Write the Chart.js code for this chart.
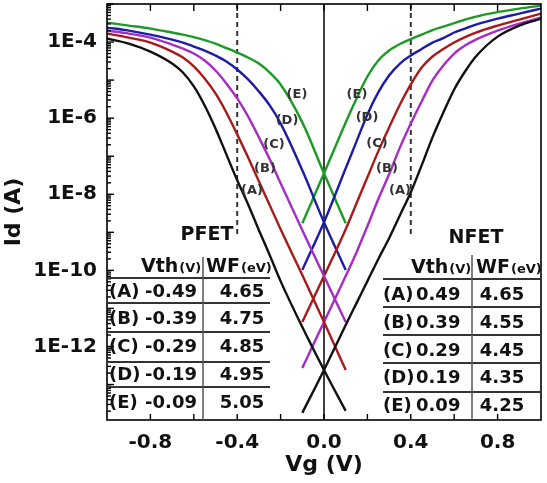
<!DOCTYPE html>
<html><head><meta charset="utf-8">
<script src="https://cdn.jsdelivr.net/npm/chart.js@4/dist/chart.umd.min.js"></script>
<style>html,body{margin:0;padding:0;background:#fff;}canvas{display:block;}</style>
</head><body>
<canvas id="c" width="547" height="483"></canvas>
<script>
// ---- data ----
const vgP = [-1, -0.9, -0.8, -0.7, -0.65, -0.6, -0.55, -0.5, -0.45, -0.4, -0.35, -0.3, -0.25, -0.2, -0.1, 0, 0.1];
const vgN = [-0.1, 0, 0.1, 0.15, 0.2, 0.25, 0.3, 0.35, 0.4, 0.45, 0.5, 0.55, 0.6, 0.65, 0.7, 0.8, 0.9, 1];

// PFET branches (current falls with Vg)
const pfetA = [1.24e-4, 9.13e-5, 5.63e-5, 2.73e-5, 1.58e-5, 6.81e-6, 2.16e-6, 5.38e-7, 1.12e-7, 2.33e-8, 5.47e-9, 1.14e-9, 2.51e-10, 5.22e-11, 3.25e-12, 2.42e-13, 2.03e-14];
const pfetB = [1.67e-4, 1.31e-4, 9.70e-5, 5.63e-5, 3.92e-5, 2.28e-5, 1.10e-5, 4.46e-6, 1.41e-6, 3.75e-7, 9.34e-8, 2.19e-8, 5.15e-9, 1.21e-9, 7.51e-11, 4.39e-12, 2.42e-13];
const pfetC = [2.00e-4, 1.67e-4, 1.31e-4, 8.60e-5, 6.75e-5, 4.99e-5, 3.27e-5, 1.79e-5, 8.16e-6, 3.30e-6, 1.11e-6, 3.13e-7, 8.28e-8, 1.94e-8, 1.14e-9, 7.07e-11, 4.39e-12];
const pfetD = [2.40e-4, 2.00e-4, 1.57e-4, 1.16e-4, 9.70e-5, 7.62e-5, 5.98e-5, 4.42e-5, 3.08e-5, 1.90e-5, 1.04e-5, 5.03e-6, 2.16e-6, 7.28e-7, 4.26e-8, 1.84e-9, 1.02e-10];
const pfetE = [3.25e-4, 2.71e-4, 2.26e-4, 1.78e-4, 1.57e-4, 1.35e-4, 1.13e-4, 9.13e-5, 6.96e-5, 5.30e-5, 3.92e-5, 2.73e-5, 1.58e-5, 7.68e-6, 7.74e-7, 3.55e-8, 1.73e-9];

// NFET branches (current rises with Vg)
const nfetA = [1.80e-14, 2.42e-13, 3.66e-12, 1.38e-11, 5.22e-11, 1.97e-10, 7.01e-10, 2.81e-9, 1.13e-8, 5.76e-8, 3.13e-7, 1.41e-6, 5.68e-6, 1.68e-5, 4.17e-5, 1.39e-4, 2.71e-4, 4.13e-4];
const nfetB = [2.73e-13, 4.39e-12, 7.07e-11, 3.01e-10, 1.45e-9, 7.40e-9, 3.35e-8, 1.71e-7, 7.28e-7, 2.75e-6, 9.78e-6, 2.42e-5, 4.99e-5, 8.10e-5, 1.16e-4, 2.00e-4, 3.06e-4, 4.39e-4];
const nfetC = [4.39e-12, 7.07e-11, 1.21e-9, 5.81e-9, 2.79e-8, 1.34e-7, 5.72e-7, 2.29e-6, 7.68e-6, 2.14e-5, 4.17e-5, 6.55e-5, 9.70e-5, 1.35e-4, 1.78e-4, 2.71e-4, 3.89e-4, 5.59e-4];
const nfetD = [1.02e-10, 1.84e-9, 4.81e-8, 2.46e-7, 1.25e-6, 4.74e-6, 1.32e-5, 2.73e-5, 4.42e-5, 6.55e-5, 9.70e-5, 1.27e-4, 1.78e-4, 2.26e-4, 2.88e-4, 4.13e-4, 5.59e-4, 7.57e-4];
const nfetE = [1.73e-9, 3.55e-8, 7.74e-7, 3.30e-6, 1.245e-5, 3.27e-5, 5.98e-5, 8.86e-5, 1.20e-4, 1.57e-4, 2.06e-4, 2.55e-4, 3.15e-4, 3.89e-4, 4.67e-4, 6.12e-4, 7.57e-4, 9.06e-4];

const rowLabels = ['(A)', '(B)', '(C)', '(D)', '(E)'];
const pfetVth = ['-0.49', '-0.39', '-0.29', '-0.19', '-0.09'];
const pfetWF  = ['4.65', '4.75', '4.85', '4.95', '5.05'];
const nfetVth = ['0.49', '0.39', '0.29', '0.19', '0.09'];
const nfetWF  = ['4.65', '4.55', '4.45', '4.35', '4.25'];

const xTickVals = [-0.8, -0.4, 0, 0.4, 0.8];
const xTickLabels = ['-0.8', '-0.4', '0.0', '0.4', '0.8'];
const yTickVals = [1e-12, 1e-10, 1e-8, 1e-6, 1e-4];
const yTickLabels = ['1E-12', '1E-10', '1E-8', '1E-6', '1E-4'];
const dashedVg = [-0.4, 0.4];

// ---- styling ----
const C_BLACK = '#111111', C_RED = '#a81a1a', C_PURPLE = '#a62cc4', C_BLUE = '#1c1ca6', C_GREEN = '#1c9a26';
const FONT = 'DejaVu Sans';

function pts(xs, ys) { return xs.map((v, i) => ({x: v, y: ys[i]})); }
function ds(xs, ys, color) {
  return {data: pts(xs, ys), borderColor: color, borderWidth: 2.4, pointRadius: 0,
          fill: false, cubicInterpolationMode: 'monotone'};
}

const overlay = {
  id: 'overlay',
  beforeDatasetsDraw(chart) {
    const {ctx, chartArea: a, scales: {x, y}} = chart;
    ctx.save();
    ctx.setLineDash([5, 4]); ctx.lineWidth = 2; ctx.strokeStyle = '#333';
    const yEnd = y.getPixelForValue(8e-10);
    dashedVg.forEach(v => {
      const px = x.getPixelForValue(v);
      ctx.beginPath(); ctx.moveTo(px, a.top); ctx.lineTo(px, yEnd); ctx.stroke();
    });
    ctx.setLineDash([]);
    const x0 = x.getPixelForValue(0);
    ctx.strokeStyle = '#000'; ctx.lineWidth = 1.5;
    ctx.beginPath(); ctx.moveTo(x0, a.top); ctx.lineTo(x0, a.bottom); ctx.stroke();
    ctx.restore();
  },
  afterDatasetsDraw(chart) {
    const {ctx, chartArea: a, scales: {x, y}} = chart;
    ctx.save();
    ctx.strokeStyle = '#000'; ctx.lineWidth = 1.6;
    ctx.strokeRect(a.left, a.top, a.right - a.left, a.bottom - a.top);
    ctx.lineWidth = 1.4;
    for (let k = -4; k <= 4; k++) {
      const px = x.getPixelForValue(k * 0.2);
      ctx.beginPath(); ctx.moveTo(px, a.bottom); ctx.lineTo(px, a.bottom - 6); ctx.stroke();
      ctx.beginPath(); ctx.moveTo(px, a.top); ctx.lineTo(px, a.top + 7); ctx.stroke();
    }
    for (let e = -14; e <= -3; e++) {
      for (let m = 1; m <= 9; m++) {
        const v = m * Math.pow(10, e);
        if (v < y.min || v > y.max) continue;
        const py = y.getPixelForValue(v);
        const len = m === 1 ? 7 : 4;
        ctx.beginPath(); ctx.moveTo(a.left, py); ctx.lineTo(a.left + len, py); ctx.stroke();
      }
    }
    // curve labels
    ctx.fillStyle = '#333';
    ctx.font = 'bold 13px "' + FONT + '"';
    ctx.textAlign = 'center'; ctx.textBaseline = 'middle';
    const leftPos = [[252, 191], [265, 169], [274, 145], [287, 121], [297, 95]];
    const rightPos = [[400, 191], [387, 169], [377, 144], [367, 118], [357, 95]];
    rowLabels.forEach((t, i) => {
      ctx.fillText(t, leftPos[i][0], leftPos[i][1]);
      ctx.fillText(t, rightPos[i][0], rightPos[i][1]);
    });

    // ---- tables ----
    ctx.fillStyle = '#111';
    ctx.strokeStyle = '#333';
    ctx.font = 'bold 19px "' + FONT + '"';
    ctx.textAlign = 'center'; ctx.textBaseline = 'middle';
    ctx.fillText('PFET', 207, 235);
    ctx.fillText('NFET', 476, 238);
    function header(xV, xW, base) {
      ctx.textAlign = 'left'; ctx.textBaseline = 'alphabetic';
      ctx.font = 'bold 19px "' + FONT + '"';
      ctx.fillText('Vth', xV, base);
      let w = ctx.measureText('Vth').width;
      ctx.font = 'bold 13px "' + FONT + '"';
      ctx.fillText('(V)', xV + w + 1, base);
      ctx.font = 'bold 19px "' + FONT + '"';
      ctx.fillText('WF', xW, base);
      w = ctx.measureText('WF').width;
      ctx.font = 'bold 13px "' + FONT + '"';
      ctx.fillText('(eV)', xW + w + 1, base);
    }
    header(141, 206, 272);
    header(411, 476, 273);
    ctx.lineWidth = 2;
    [278, 303, 332, 362, 387].forEach(py => {
      ctx.beginPath(); ctx.moveTo(a.left, py); ctx.lineTo(270, py); ctx.stroke();
    });
    [279, 307, 335, 363, 392].forEach(py => {
      ctx.beginPath(); ctx.moveTo(383, py); ctx.lineTo(a.right, py); ctx.stroke();
    });
    ctx.strokeStyle = '#555'; ctx.lineWidth = 1.5;
    ctx.beginPath(); ctx.moveTo(203, 257); ctx.lineTo(203, a.bottom); ctx.stroke();
    ctx.beginPath(); ctx.moveTo(472, 255); ctx.lineTo(472, a.bottom); ctx.stroke();
    ctx.font = 'bold 18px "' + FONT + '"';
    ctx.textBaseline = 'middle';
    const pRows = [292, 319, 347, 375, 403];
    const nRows = [295, 323, 351, 378, 406];
    rowLabels.forEach((t, i) => {
      ctx.textAlign = 'left';
      ctx.fillText(t, 109, pRows[i]);
      ctx.textAlign = 'right';
      ctx.fillText(pfetVth[i], 197, pRows[i]);
      ctx.textAlign = 'center';
      ctx.fillText(pfetWF[i], 242, pRows[i]);

      ctx.textAlign = 'left';
      ctx.fillText(t, 383, nRows[i]);
      ctx.fillText(nfetVth[i], 416, nRows[i]);
      ctx.textAlign = 'center';
      ctx.fillText(nfetWF[i], 502, nRows[i]);
    });
    ctx.restore();
  }
};

new Chart(document.getElementById('c'), {
  type: 'line',
  data: {
    datasets: [
      ds(vgP, pfetA, C_BLACK), ds(vgN, nfetA, C_BLACK),
      ds(vgP, pfetB, C_RED),   ds(vgN, nfetB, C_PURPLE),
      ds(vgP, pfetC, C_PURPLE),ds(vgN, nfetC, C_RED),
      ds(vgP, pfetD, C_BLUE),  ds(vgN, nfetD, C_BLUE),
      ds(vgP, pfetE, C_GREEN), ds(vgN, nfetE, C_GREEN)
    ]
  },
  options: {
    responsive: false, animation: false, devicePixelRatio: 1,
    layout: {padding: {left: 0, right: 6, top: 4, bottom: 0}},
    plugins: {legend: {display: false}, tooltip: {enabled: false}},
    scales: {
      x: {
        type: 'linear', min: -1, max: 1, position: 'bottom',
        afterBuildTicks: s => { s.ticks = xTickVals.map(v => ({value: v})); },
        afterFit: s => { s.height = 63; s.paddingLeft = 0; s.paddingRight = 0; },
        ticks: {callback: (v, i) => xTickLabels[i], autoSkip: false, maxRotation: 0,
                font: {family: FONT, weight: 'bold', size: 20}, color: '#111', padding: 11},
        grid: {display: false, drawTicks: false},
        border: {display: false},
        title: {display: true, text: 'Vg (V)', color: '#111',
                font: {family: FONT, weight: 'bold', size: 22}, padding: {top: 0, bottom: 5}}
      },
      y: {
        type: 'logarithmic', min: 1.17e-14, max: 1e-3, position: 'left',
        afterBuildTicks: s => { s.ticks = yTickVals.map(v => ({value: v})); },
        afterFit: s => { s.width = 107; s.paddingTop = 0; s.paddingBottom = 0; },
        ticks: {callback: (v, i) => yTickLabels[i], autoSkip: false,
                font: {family: FONT, weight: 'bold', size: 20}, color: '#111', padding: 10},
        grid: {display: false, drawTicks: false},
        border: {display: false},
        title: {display: true, text: 'Id (A)', color: '#111',
                font: {family: FONT, weight: 'bold', size: 22}, padding: {top: 1, bottom: 0}}
      }
    }
  },
  plugins: [overlay]
});
</script>
</body></html>
